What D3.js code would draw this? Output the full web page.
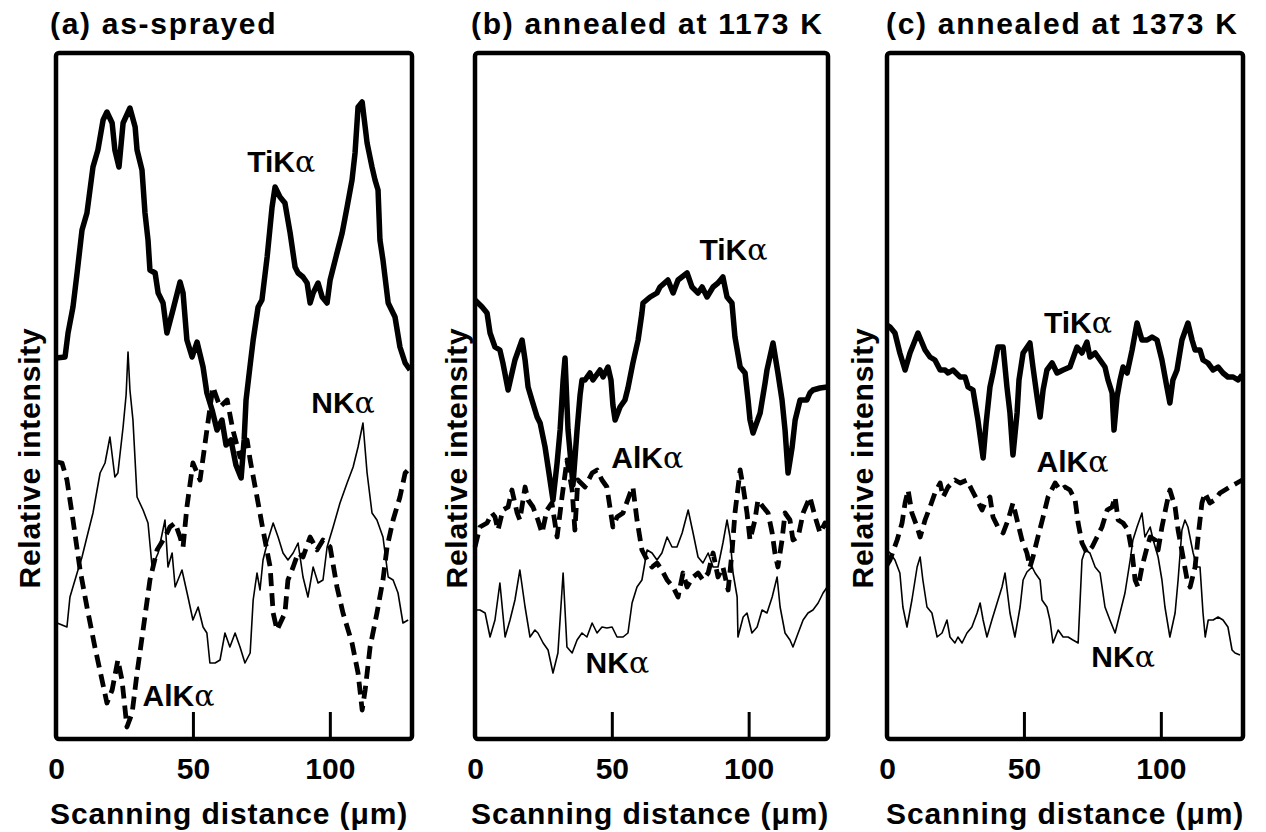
<!DOCTYPE html>
<html><head><meta charset="utf-8">
<script src="https://cdn.jsdelivr.net/npm/d3@7"></script>
<style>
html,body{margin:0;padding:0;background:#fff;}
svg text{font-family:"Liberation Sans",Arial,Helvetica,sans-serif;font-weight:bold;fill:#000;}
</style></head>
<body><svg id="chart" width="1266" height="832"></svg>
<script>
// ---- data: [scanning distance (µm), relative intensity (a.u.)] ----
const titles = ["(a) as-sprayed", "(b) annealed at 1173 K", "(c) annealed at 1373 K"];
const xTicks = [0, 50, 100];
const xLabel = "Scanning distance (\u03bcm)";
const yLabel = "Relative intensity";
const seriesNames = ["TiK", "AlK", "NK"];

const aTi = [[0,381],[3.3,382],[4.4,406],[6.2,432],[7.7,466],[9.5,509],[11.3,526],[13.5,572],[15.3,589],[17.2,619],[18.6,627],[20.5,616],[21.5,589],[23.0,572],[24.5,616],[27.0,631],[28.9,612],[29.6,589],[31.4,569],[32.5,526],[33.6,499],[34.3,469],[36.2,466],[37.3,446],[39.1,436],[40.5,406],[42.7,429],[45.3,457],[46.4,446],[47.8,399],[49.7,382],[51.5,397],[53.7,372],[55.1,346],[57.0,329],[58.8,309],[60.6,319],[62.1,294],[63.9,299],[65.7,274],[67.6,261],[68.7,299],[69.4,339],[70.9,374],[72.0,399],[73.8,432],[75.2,439],[77.1,482],[78.9,532],[80.0,552],[81.8,542],[83.6,536],[85.5,506],[87.3,472],[88.4,466],[90.2,462],[91.7,456],[92.8,436],[93.9,446],[95.7,456],[97.2,442],[99.0,436],[100.1,459],[102.6,486],[104.5,506],[106.3,532],[108.1,559],[109.2,586],[110.3,632],[111.8,637],[112.9,612],[113.6,596],[115.4,572],[116.5,559],[117.6,549],[118.3,499],[119.4,479],[121.3,436],[123.8,422],[125.6,392],[127.5,376],[129.3,369]];
const aAl = [[0.4,277],[2.2,276],[4.0,259],[6.2,219],[8.8,169],[11.3,132],[14.2,92],[16.8,59],[18.6,36],[20.5,49],[22.6,79],[24.1,59],[25.9,12],[27.8,26],[29.6,66],[31.8,109],[34.3,159],[36.9,189],[39.8,202],[41.6,212],[43.5,216],[45.3,202],[46.4,192],[47.8,232],[50.0,276],[52.6,259],[55.1,309],[57.3,352],[59.9,332],[62.5,339],[64.6,309],[67.2,282],[69.8,299],[70.9,279],[73.4,242],[75.6,209],[78.2,172],[79.3,126],[80.7,109],[83.6,126],[84.7,159],[86.6,172],[88.4,186],[90.2,182],[92.8,202],[95.3,189],[97.5,199],[100.1,192],[102.6,152],[104.8,126],[108.1,96],[110.3,66],[111.8,29],[112.9,49],[114.7,92],[117.2,126],[119.4,159],[120.9,192],[123.1,219],[125.6,242],[127.5,266],[129.3,271]];
const aN = [[0.4,116],[4.0,112],[5.1,142],[7.7,166],[9.5,182],[11.3,202],[13.5,226],[16.1,266],[17.9,276],[19.7,302],[21.5,262],[22.6,266],[24.5,312],[25.6,344],[26.3,387],[27.0,349],[28.1,319],[29.6,242],[31.8,229],[33.6,216],[35.1,172],[37.3,186],[39.8,219],[40.9,172],[42.4,186],[43.5,152],[46.0,169],[48.2,142],[50.0,119],[51.9,132],[53.7,112],[55.1,106],[56.2,76],[58.1,76],[59.9,79],[61.7,106],[63.5,92],[65.4,106],[67.2,92],[69.0,76],[70.9,86],[72.0,139],[73.4,166],[74.5,149],[75.6,179],[77.4,199],[79.3,216],[81.1,202],[82.9,186],[84.7,179],[86.6,186],[88.4,196],[90.2,162],[92.0,142],[93.9,172],[95.7,156],[97.5,159],[99.0,192],[101.2,212],[103.7,236],[106.3,256],[108.5,272],[110.3,292],[112.1,316],[113.6,266],[115.4,226],[117.2,219],[119.4,202],[121.3,162],[123.1,159],[124.9,146],[126.7,116],[128.6,119]];

const bTi = [[0,439],[2.6,432],[4.4,426],[5.5,406],[7.3,392],[9.1,389],[10.2,376],[12.1,349],[14.6,379],[17.2,399],[18.3,379],[19.4,352],[20.8,339],[22.7,322],[23.8,316],[25.6,292],[26.7,272],[28.5,239],[30.0,276],[31.1,309],[32.2,359],[32.9,381],[34.0,309],[35.8,254],[37.3,309],[38.4,344],[39.1,359],[40.2,359],[42.0,366],[43.1,359],[45.7,369],[46.8,362],[48.6,372],[49.7,359],[50.4,334],[51.2,319],[53.0,332],[54.8,339],[55.9,351],[57.7,376],[59.6,399],[61.0,426],[61.4,436],[64.0,442],[66.5,446],[67.6,452],[70.5,459],[72.4,446],[74.2,459],[77.5,466],[79.3,452],[81.5,446],[83.0,452],[84.8,442],[87.0,452],[88.8,456],[90.6,462],[92.1,442],[93.9,436],[95.0,402],[96.9,372],[98.7,366],[99.8,339],[100.5,319],[101.6,306],[104.2,326],[106.0,356],[106.7,369],[108.9,396],[110.7,366],[112.2,339],[113.3,309],[114.4,266],[115.9,292],[117.0,319],[118.8,339],[121.3,339],[122.4,346],[123.5,349],[126.1,351],[128.7,352]];
const bAl = [[0,192],[1.8,212],[4.4,216],[6.2,226],[7.3,222],[8.4,209],[10.2,229],[12.1,232],[13.5,249],[15.4,226],[16.4,219],[18.3,252],[19.4,239],[21.2,232],[23.0,219],[24.5,206],[26.3,229],[28.1,236],[30.0,202],[31.8,242],[33.6,279],[35.5,249],[36.5,209],[37.6,259],[40.2,252],[42.8,266],[44.6,269],[46.4,259],[48.2,252],[50.4,212],[51.9,222],[54.1,226],[56.7,246],[57.7,252],[59.2,219],[61.0,189],[62.9,179],[64.7,172],[66.5,176],[68.3,169],[70.2,159],[72.4,152],[74.2,142],[76.0,166],[77.5,152],[79.7,162],[81.5,166],[83.3,159],[85.2,166],[87.0,186],[88.8,162],[90.6,172],[92.5,149],[93.9,186],[95.0,226],[96.9,269],[98.0,252],[99.4,226],[100.5,199],[102.3,219],[103.4,239],[105.3,232],[107.1,226],[108.6,206],[109.6,186],[110.7,172],[112.2,199],[113.3,226],[115.1,219],[116.2,199],[118.1,202],[119.9,226],[122.4,242],[124.3,222],[126.1,206],[127.9,216],[128.7,212]];
const bN = [[0,129],[1.8,129],[3.7,126],[5.5,102],[7.3,119],[9.1,156],[11.0,102],[12.8,119],[14.6,139],[16.4,169],[18.3,132],[20.1,102],[21.9,109],[23.0,106],[24.9,96],[26.7,89],[28.5,66],[30.3,86],[32.2,166],[33.6,92],[35.5,86],[37.3,99],[39.1,106],[40.9,102],[42.8,116],[44.6,106],[46.4,112],[48.2,111],[50.1,112],[51.9,102],[54.1,102],[55.9,106],[57.4,136],[59.2,152],[61.0,159],[62.9,189],[64.7,186],[66.5,179],[68.3,186],[70.2,202],[72.0,192],[73.8,192],[75.7,206],[77.9,229],[79.7,206],[81.5,182],[83.3,176],[85.2,186],[87.0,172],[88.8,172],[90.6,196],[92.1,219],[93.2,202],[94.3,166],[95.8,142],[96.1,102],[98.0,122],[99.4,126],[101.2,106],[103.1,112],[104.9,129],[106.7,126],[108.6,142],[110.4,162],[111.5,132],[113.3,106],[115.1,99],[116.2,92],[118.1,106],[119.9,119],[121.7,126],[123.5,129],[125.4,136],[127.2,146],[128.7,152]];

const cTi = [[0,414],[1.1,412],[2.9,406],[4.7,386],[6.6,369],[8.4,386],[11.3,406],[13.9,389],[15.7,382],[17.5,379],[19.4,369],[21.2,369],[22.3,366],[24.1,369],[26.7,362],[28.5,362],[29.6,352],[31.4,349],[33.2,319],[35.1,281],[36.2,316],[37.6,352],[38.7,366],[40.5,392],[42.4,392],[43.8,352],[44.9,326],[46.0,284],[47.5,326],[48.2,359],[49.7,386],[52.2,396],[53.3,372],[54.8,342],[55.9,322],[57.0,349],[58.4,369],[60.3,376],[62.1,366],[64.3,369],[66.8,372],[69.4,392],[71.2,386],[73.0,397],[74.1,382],[76.0,386],[77.8,379],[79.6,372],[80.7,359],[82.2,346],[82.9,309],[84.0,342],[85.1,359],[86.2,372],[87.7,366],[89.5,389],[91.3,416],[93.1,399],[95.0,399],[96.8,402],[98.6,399],[100.4,379],[102.2,352],[103.3,336],[104.4,359],[105.9,369],[107.7,399],[109.9,416],[111.4,399],[112.5,389],[114.3,389],[115.4,379],[117.2,376],[119.1,369],[120.9,372],[122.7,366],[124.5,362],[126.4,362],[128.2,359],[129.7,364]];
const cAl = [[0,174],[1.1,179],[3.7,199],[5.5,216],[6.6,236],[7.7,249],[9.1,226],[11.0,212],[12.1,202],[13.9,219],[15.7,232],[17.5,246],[19.4,256],[20.5,242],[22.3,252],[24.8,259],[26.7,256],[29.2,259],[31.0,249],[32.9,239],[34.7,229],[35.8,236],[37.6,242],[38.7,222],[40.5,212],[42.4,206],[44.2,219],[46.0,236],[47.5,219],[49.3,199],[51.1,186],[52.2,172],[53.3,182],[55.1,202],[57.0,222],[58.8,242],[61.4,256],[63.2,249],[65.0,252],[66.8,249],[68.7,239],[69.8,216],[71.2,196],[73.0,186],[74.9,192],[76.7,202],[78.5,212],[80.4,229],[82.2,232],[83.3,242],[84.4,219],[86.2,216],[88.0,209],[89.5,186],[90.6,159],[91.7,152],[93.1,172],[95.0,192],[96.1,202],[97.9,199],[99.0,189],[100.4,212],[102.2,236],[103.3,249],[105.2,232],[106.3,209],[108.1,182],[109.6,159],[110.7,152],[112.5,172],[113.6,202],[115.0,236],[116.1,246],[117.9,236],[119.7,239],[121.6,246],[123.4,249],[125.2,252],[127.8,256],[129.7,259]];
const cN = [[0,189],[1.1,186],[2.9,179],[4.7,166],[5.8,132],[7.3,112],[9.1,139],[11.0,172],[12.1,182],[13.1,159],[14.6,132],[16.4,126],[18.3,102],[20.1,106],[21.9,119],[23.0,102],[24.8,96],[25.9,102],[27.4,96],[29.2,106],[31.0,112],[32.9,126],[34.0,136],[35.1,119],[36.5,102],[38.3,119],[40.2,136],[42.0,152],[43.1,166],[44.9,126],[46.7,102],[48.6,132],[49.7,159],[51.1,167],[53.0,172],[54.1,166],[55.9,159],[56.6,139],[58.4,132],[59.5,119],[60.6,96],[62.5,109],[64.3,102],[66.1,102],[67.9,99],[69.8,96],[71.2,179],[72.4,189],[74.1,186],[76.0,172],[77.8,166],[79.6,132],[81.4,119],[83.3,106],[85.1,126],[86.9,146],[88.8,179],[89.8,199],[91.3,212],[93.1,226],[94.2,202],[96.1,212],[97.2,199],[99.0,182],[100.4,159],[101.5,132],[103.3,102],[105.2,126],[106.3,159],[107.7,209],[108.8,219],[109.9,212],[111.8,186],[113.2,172],[114.3,172],[115.4,126],[116.2,102],[117.3,119],[119.1,119],[120.9,122],[122.7,119],[124.5,112],[126.0,89],[127.1,86],[128.9,84]];

// label anchor points per panel: [distance, intensity] for TiKα, AlKα, NKα labels
const aLabelPos = [[69.8, 567], [31.6, 33], [93.2, 326]];
const bLabelPos = [[82.0, 479], [49.8, 271], [40.4, 66]];
const cLabelPos = [[57.3, 406], [54.6, 267], [74.6, 72]];

// ---- layout ----
const panels = [
  {title: titles[0], ti: aTi, al: aAl, n: aN, lab: aLabelPos, x0: 56, x1: 412, xmax: 130, ylab: 30, titleX: 50},
  {title: titles[1], ti: bTi, al: bAl, n: bN, lab: bLabelPos, x0: 475, x1: 828, xmax: 129, ylab: 457, titleX: 471},
  {title: titles[2], ti: cTi, al: cAl, n: cN, lab: cLabelPos, x0: 887, x1: 1243, xmax: 130, ylab: 863, titleX: 886}
];
const yTop = 53, yBot = 739;
const svg = d3.select("#chart");

panels.forEach(p => {
  const x = d3.scaleLinear().domain([0, p.xmax]).range([p.x0, p.x1]);
  const y = d3.scaleLinear().domain([0, 686]).range([yBot, yTop]);
  const g = svg.append("g");
  const line = d3.line().x(d => x(d[0])).y(d => y(d[1]));

  // curves
  g.append("path").datum(p.n).attr("d", line)
    .attr("fill", "none").attr("stroke", "#000").attr("stroke-width", 1.6).attr("stroke-linejoin", "round");
  g.append("path").datum(p.al).attr("d", line)
    .attr("fill", "none").attr("stroke", "#000").attr("stroke-width", 4.8)
    .attr("stroke-dasharray", "13,7").attr("stroke-linejoin", "round");
  g.append("path").datum(p.ti).attr("d", line)
    .attr("fill", "none").attr("stroke", "#000").attr("stroke-width", 5.5).attr("stroke-linejoin", "round");

  // frame
  g.append("rect").attr("x", p.x0).attr("y", yTop).attr("width", p.x1 - p.x0).attr("height", yBot - yTop)
    .attr("fill", "none").attr("stroke", "#000").attr("stroke-width", 4.5).attr("rx", 3);

  // x axis: inward ticks
  const ax = d3.axisBottom(x).tickValues(xTicks).tickSize(-27).tickPadding(19).tickFormat(d3.format("d"));
  const axg = g.append("g").attr("transform", `translate(0,${yBot})`).call(ax);
  axg.select(".domain").remove();
  axg.selectAll(".tick line").attr("stroke", "#000").attr("stroke-width", 3)
    .filter(d => d === 0).remove();
  axg.selectAll(".tick text").attr("font-size", 30).attr("fill", "#000")
    .style("font-family", '"Liberation Sans",Arial,sans-serif').style("font-weight", "bold");

  // axis labels
  g.append("text").attr("x", p.titleX).attr("y", 824).attr("font-size", 30)
    .attr("letter-spacing", 0.9).text(xLabel);
  g.append("text").attr("transform", `translate(${p.ylab + 10},458) rotate(-90)`)
    .attr("text-anchor", "middle").attr("font-size", 30).attr("letter-spacing", 0.8).text(yLabel);

  // title
  g.append("text").attr("x", p.titleX).attr("y", 34).attr("font-size", 30)
    .attr("letter-spacing", 1.7).text(p.title);

  // series labels
  seriesNames.forEach((nm, i) => {
    const t = g.append("text").attr("x", x(p.lab[i][0])).attr("y", y(p.lab[i][1])).attr("font-size", 30);
    t.append("tspan").text(nm);
    t.append("tspan").text("\u03b1").style("font-weight", "normal")
      .style("font-family", '"DejaVu Serif","Liberation Serif",serif').attr("font-size", 30);
  });
});
</script></body></html>
